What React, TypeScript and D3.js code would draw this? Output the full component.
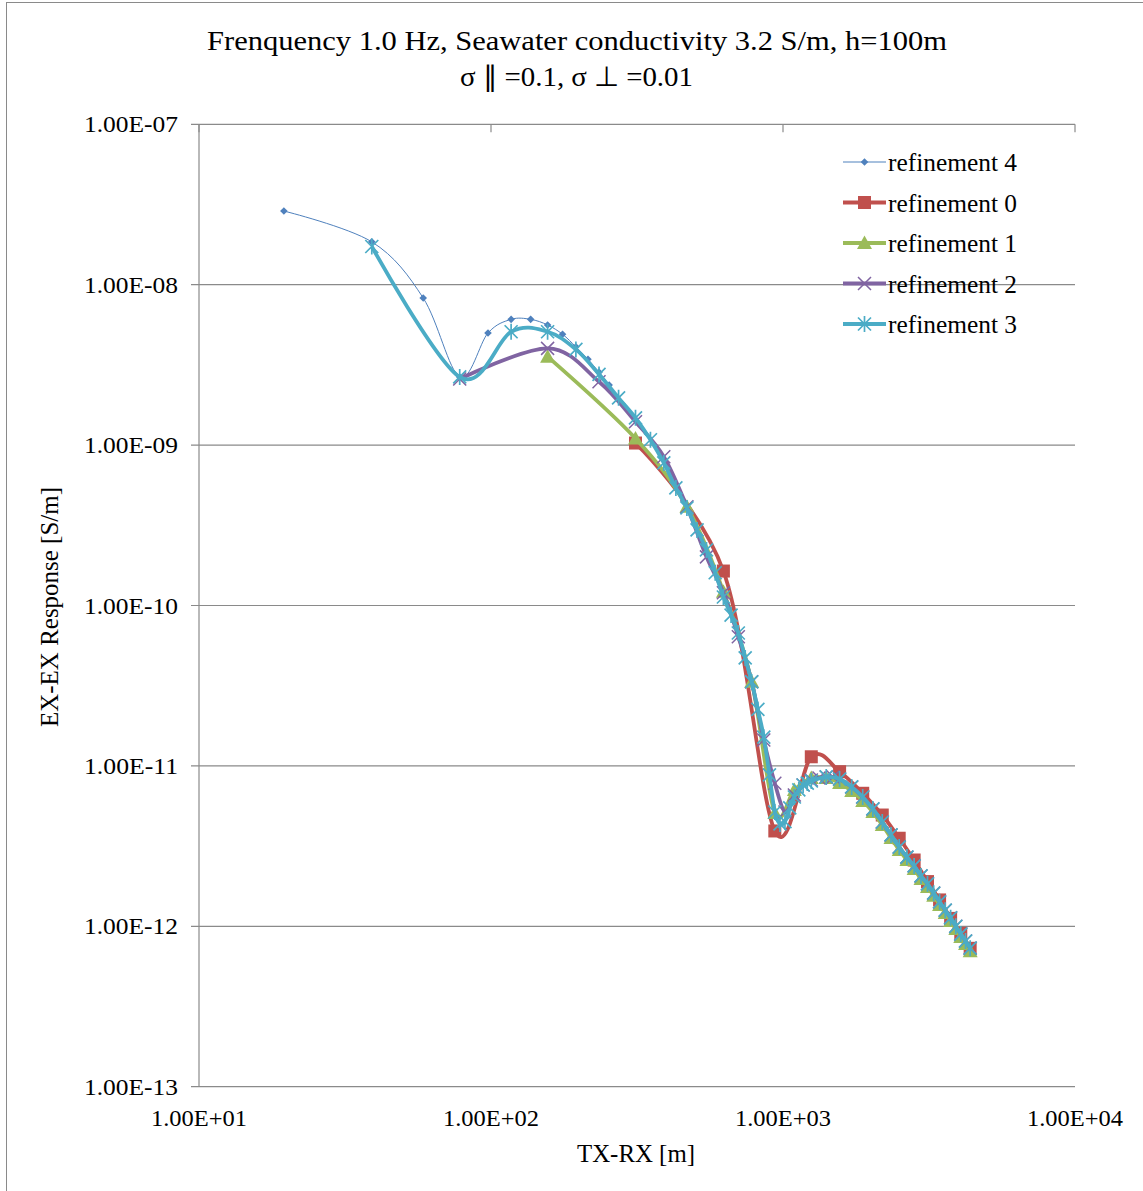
import React from 'react';
import * as d3 from 'd3';

const W = 1143;
const H = 1191;
const FONT = '"Liberation Serif", "Times New Roman", serif';

// refinement 4
const r4X = [19.53, 39.06, 58.59, 78.13, 97.66, 117.19, 136.72, 156.25, 175.78, 195.31, 214.84, 234.38, 253.91];
const r4Y = [2.88e-8, 1.85e-8, 8.26e-9, 2.66e-9, 5.0e-9, 6.08e-9, 6.08e-9, 5.61e-9, 4.91e-9, 4.1e-9, 3.43e-9, 2.85e-9, 2.37e-9];

// refinement 0
const r0X = [312.5, 625, 937.5, 1250, 1562.5, 1875, 2187.5, 2500, 2812.5, 3125, 3437.5, 3750, 4062.5, 4375];
const r0Y = [1.03e-9, 1.64e-10, 3.93e-12, 1.14e-11, 9.2e-12, 6.75e-12, 4.94e-12, 3.54e-12, 2.59e-12, 1.9e-12, 1.46e-12, 1.12e-12, 9.04e-13, 7.29e-13];

// refinement 1
const r1X = [156.25, 312.5, 468.75, 625, 781.25, 937.5, 1093.75, 1250, 1406.25, 1562.5, 1718.75, 1875, 2031.25, 2187.5,
  2343.75, 2500, 2656.25, 2812.5, 2968.75, 3125, 3281.25, 3437.5, 3593.75, 3750, 3906.25, 4062.5, 4218.75, 4375];
const r1Y = [3.56e-9, 1.1e-9, 4.13e-10, 1.22e-10, 3.35e-11, 5.08e-12, 7.08e-12, 8.41e-12, 8.41e-12, 7.82e-12, 6.97e-12, 6.04e-12,
  5.16e-12, 4.28e-12, 3.55e-12, 2.99e-12, 2.59e-12, 2.28e-12, 1.97e-12, 1.76e-12, 1.55e-12, 1.36e-12, 1.21e-12, 1.08e-12,
  9.62e-13, 8.58e-13, 7.75e-13, 7.0e-13];

// refinement 2
const r2X = [78.13, 156.25, 234.38, 312.5, 390.63, 468.75, 546.88, 625, 703.13, 781.25, 859.38, 937.5, 1015.63, 1093.75,
  1171.88, 1250, 1328.13, 1406.25, 1484.38, 1562.5, 1718.75, 1875, 2031.25, 2187.5, 2343.75, 2500, 2656.25, 2812.5,
  2968.75, 3125, 3281.25, 3437.5, 3593.75, 3750, 3906.25, 4062.5, 4218.75, 4375];
const r2Y = [2.58e-9, 4.01e-9, 2.48e-9, 1.4e-9, 8.47e-10, 4.13e-10, 2.01e-10, 1.2e-10, 6.38e-11, 3.35e-11, 1.45e-11, 7.8e-12,
  5.16e-12, 6.59e-12, 7.6e-12, 8.16e-12, 8.41e-12, 8.53e-12, 8.53e-12, 8.28e-12, 7.39e-12, 6.4e-12, 5.39e-12, 4.47e-12,
  3.71e-12, 3.12e-12, 2.7e-12, 2.38e-12, 2.06e-12, 1.84e-12, 1.61e-12, 1.42e-12, 1.26e-12, 1.13e-12, 1.0e-12, 8.95e-13,
  8.09e-13, 7.31e-13];

// refinement 3
const r3X = [39.06, 78.13, 117.19, 156.25, 195.31, 234.38, 273.44, 312.5, 351.56, 390.63, 429.69, 468.75, 507.81, 546.88,
  585.94, 625, 664.06, 703.13, 742.19, 781.25, 820.31, 859.38, 898.44, 937.5, 976.56, 1015.63, 1054.69, 1093.75, 1132.81,
  1171.88, 1210.94, 1250, 1406.25, 1562.5, 1718.75, 1875, 2031.25, 2187.5, 2343.75, 2500, 2656.25, 2812.5, 2968.75, 3125,
  3281.25, 3437.5, 3593.75, 3750, 3906.25, 4062.5, 4218.75, 4375];
const r3Y = [1.73e-8, 2.66e-9, 5.09e-9, 5.09e-9, 3.95e-9, 2.76e-9, 1.97e-9, 1.48e-9, 1.08e-9, 7.74e-10, 5.41e-10, 4.06e-10,
  2.96e-10, 2.22e-10, 1.6e-10, 1.13e-10, 8.72e-11, 6.74e-11, 4.71e-11, 3.34e-11, 2.25e-11, 1.51e-11, 8.8e-12, 5.16e-12,
  4.35e-12, 4.49e-12, 5.47e-12, 6.4e-12, 7.08e-12, 7.6e-12, 7.82e-12, 8.05e-12, 8.53e-12, 8.28e-12, 7.39e-12, 6.4e-12,
  5.39e-12, 4.47e-12, 3.71e-12, 3.12e-12, 2.7e-12, 2.38e-12, 2.06e-12, 1.84e-12, 1.61e-12, 1.42e-12, 1.26e-12, 1.13e-12,
  1.0e-12, 8.95e-13, 8.09e-13, 7.31e-13];

const xTicks = [1e1, 1e2, 1e3, 1e4];
const xTickLabels = ['1.00E+01', '1.00E+02', '1.00E+03', '1.00E+04'];
const yTicks = [1e-13, 1e-12, 1e-11, 1e-10, 1e-9, 1e-8, 1e-7];
const yTickLabels = ['1.00E-13', '1.00E-12', '1.00E-11', '1.00E-10', '1.00E-09', '1.00E-08', '1.00E-07'];

const series = [
  {name: 'refinement 4', xs: r4X, ys: r4Y, color: '#4F81BD', width: 1, marker: 'diamond'},
  {name: 'refinement 0', xs: r0X, ys: r0Y, color: '#C0504D', width: 3.8, marker: 'square'},
  {name: 'refinement 1', xs: r1X, ys: r1Y, color: '#9BBB59', width: 3.8, marker: 'triangle'},
  {name: 'refinement 2', xs: r2X, ys: r2Y, color: '#8064A2', width: 3.8, marker: 'x'},
  {name: 'refinement 3', xs: r3X, ys: r3Y, color: '#4BACC6', width: 3.8, marker: 'star'},
];

const left = 199;
const right = 1075;
const top = 124.3;
const bottom = 1086.7;

const x = d3.scaleLog().domain([10, 10000]).range([left, right]);
const y = d3.scaleLog().domain([1e-13, 1e-7]).range([bottom, top]);

const Marker = ({type, cx, cy, color}: {type: string; cx: number; cy: number; color: string}) => {
  if (type === 'diamond') {
    const s = 3.8;
    return <path d={`M${cx},${cy - s}L${cx + s},${cy}L${cx},${cy + s}L${cx - s},${cy}Z`} fill={color} />;
  }
  if (type === 'square') {
    const s = 6.5;
    return <rect x={cx - s} y={cy - s} width={2 * s} height={2 * s} fill={color} />;
  }
  if (type === 'triangle') {
    const s = 7.5;
    return <path d={`M${cx},${cy - s}L${cx + s},${cy + s * 0.8}L${cx - s},${cy + s * 0.8}Z`} fill={color} />;
  }
  if (type === 'x') {
    const s = 6.5;
    return (
      <path d={`M${cx - s},${cy - s}L${cx + s},${cy + s}M${cx - s},${cy + s}L${cx + s},${cy - s}`}
        stroke={color} strokeWidth={1.5} fill="none" />
    );
  }
  const s = 6.5;
  return (
    <path d={`M${cx - s},${cy - s}L${cx + s},${cy + s}M${cx - s},${cy + s}L${cx + s},${cy - s}M${cx},${cy - s - 1.5}L${cx},${cy + s + 1.5}`}
      stroke={color} strokeWidth={1.7} fill="none" />
  );
};

export default function App() {
  const line = d3
    .line<[number, number]>()
    .x(d => x(d[0]))
    .y(d => y(d[1]))
    .curve(d3.curveCatmullRom.alpha(0));

  return (
    <svg width={W} height={H} style={{position: 'absolute', left: 0, top: 0, background: '#fff'}} fontFamily={FONT}>
      <rect x={6.5} y={2.5} width={W + 10} height={H + 10} fill="#fff" stroke="#8a8a8a" strokeWidth={1} />

      <text x={577} y={50} fontSize={28} textAnchor="middle" textLength={740} lengthAdjust="spacingAndGlyphs">
        Frenquency 1.0 Hz, Seawater conductivity  3.2 S/m, h=100m
      </text>
      <text x={576.5} y={86} fontSize={28} textAnchor="middle" textLength={233} lengthAdjust="spacingAndGlyphs">
        σ ∥ =0.1, σ ⊥ =0.01
      </text>

      <g stroke="#8a8a8a" strokeWidth={1.2}>
        {yTicks.map(t => (
          <line key={t} x1={left - 8} x2={right} y1={y(t)} y2={y(t)} />
        ))}
        <line x1={left} x2={left} y1={top} y2={bottom} />
        {xTicks.map(t => (
          <line key={t} x1={x(t)} x2={x(t)} y1={top} y2={top + 8} />
        ))}
      </g>

      {yTicks.map((t, i) => (
        <text key={t} x={178} y={y(t) + 8} fontSize={24} textAnchor="end" textLength={94} lengthAdjust="spacingAndGlyphs">
          {yTickLabels[i]}
        </text>
      ))}
      {xTicks.map((t, i) => (
        <text key={t} x={x(t)} y={1126} fontSize={24} textAnchor="middle" textLength={96} lengthAdjust="spacingAndGlyphs">
          {xTickLabels[i]}
        </text>
      ))}
      <text x={636} y={1162} fontSize={25} textAnchor="middle" textLength={118} lengthAdjust="spacingAndGlyphs">
        TX-RX [m]
      </text>
      <text transform="translate(58,607) rotate(-90)" fontSize={25} textAnchor="middle" textLength={240} lengthAdjust="spacingAndGlyphs">
        EX-EX Response [S/m]
      </text>

      {series.map(s => {
        const pts = s.xs.map((v, i) => [v, s.ys[i]] as [number, number]);
        return (
          <g key={s.name}>
            <path d={line(pts) || ''} fill="none" stroke={s.color} strokeWidth={s.width} strokeLinejoin="round" />
            {pts.map((p, i) => (
              <Marker key={i} type={s.marker} cx={x(p[0])} cy={y(p[1])} color={s.color} />
            ))}
          </g>
        );
      })}

      {series.map((s, i) => {
        const ly = 162 + i * 40.5;
        return (
          <g key={s.name}>
            <line x1={843} x2={886} y1={ly} y2={ly} stroke={s.color} strokeWidth={s.width} />
            <Marker type={s.marker} cx={864.5} cy={ly} color={s.color} />
            <text x={888} y={ly + 9} fontSize={25} textLength={129} lengthAdjust="spacingAndGlyphs">
              {s.name}
            </text>
          </g>
        );
      })}
    </svg>
  );
}
